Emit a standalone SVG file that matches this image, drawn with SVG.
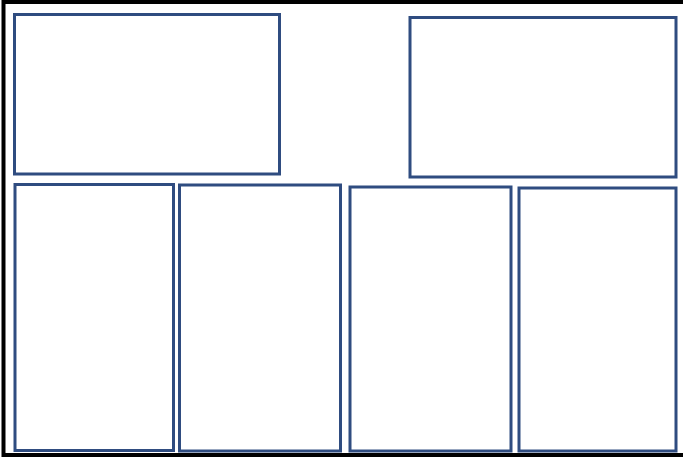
<svg xmlns="http://www.w3.org/2000/svg" width="683" height="457" viewBox="0 0 683 457">
  <style>
    .panel { fill: #ffffff; stroke: #2f4c80; stroke-width: 3; }
    .frame { fill: none; stroke: #000000; stroke-width: 4; }
  </style>
  <rect x="0" y="0" width="683" height="457" fill="#ffffff"/>
  <rect class="frame" x="3.5" y="2" width="690" height="453"/>
  <g id="panel-top-left"><rect class="panel" x="14.5" y="14.5" width="265" height="159.5"/></g>
  <g id="panel-top-right"><rect class="panel" x="410" y="17.5" width="266" height="159.5"/></g>
  <g id="panel-bottom-1"><rect class="panel" x="15" y="184.5" width="158.5" height="266"/></g>
  <g id="panel-bottom-2"><rect class="panel" x="179.5" y="185" width="161" height="266"/></g>
  <g id="panel-bottom-3"><rect class="panel" x="350" y="187" width="161" height="264"/></g>
  <g id="panel-bottom-4"><rect class="panel" x="519" y="188" width="157" height="263"/></g>
  <g id="connectors"></g>
</svg>
